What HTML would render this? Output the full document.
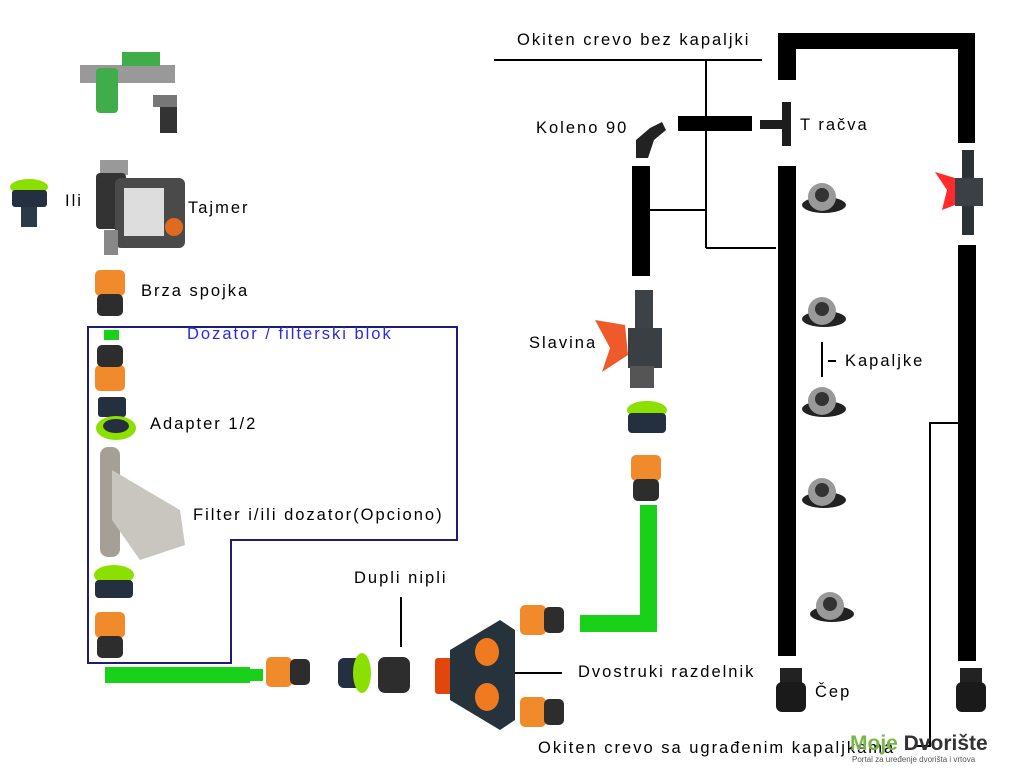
<!DOCTYPE html>
<html><head><meta charset="utf-8"><style>
body{margin:0;width:1024px;height:768px;background:#fff;overflow:hidden;position:relative;font-family:"Liberation Sans",sans-serif}
.t{position:absolute;font-size:16.5px;color:#000;white-space:nowrap;letter-spacing:2px}
</style></head><body>
<svg width="1024" height="768" style="position:absolute;left:0;top:0">
<g fill="#000">
<rect x="778" y="33" width="18" height="47"/><rect x="778" y="33" width="197" height="16"/><rect x="958" y="33" width="17" height="110"/>
<rect x="678" y="116" width="74" height="15"/>
<rect x="632" y="166" width="18" height="110"/>
<rect x="778" y="166" width="18" height="490"/>
<rect x="958" y="245" width="18" height="416"/>
</g>
<g stroke="#000" stroke-width="2" fill="none">
<line x1="494" y1="60" x2="762" y2="60"/><line x1="706" y1="60" x2="706" y2="248"/>
<line x1="648" y1="210" x2="706" y2="210"/><line x1="706" y1="248" x2="776" y2="248"/>
<line x1="822" y1="342" x2="822" y2="377"/><line x1="828" y1="361" x2="836" y2="361"/>
<polyline points="960,423 930,423 930,746 914,746"/>
<line x1="401" y1="597" x2="401" y2="647"/><line x1="510" y1="673" x2="562" y2="673"/>
</g>
<path d="M88 327H457V540H231V663H88Z" fill="none" stroke="#1c1c7a" stroke-width="2"/>
<g fill="#1ad11a">
<rect x="105" y="667" width="145" height="16"/><rect x="248" y="669" width="15" height="12"/>
<rect x="640" y="505" width="17" height="127"/><rect x="580" y="615" width="77" height="17"/>
<rect x="104" y="330" width="15" height="10"/>
</g>
<g><rect x="80" y="65" width="95" height="18" fill="#999"/><rect x="96" y="68" width="22" height="45" rx="4" fill="#3fae4a"/><rect x="122" y="52" width="38" height="14" fill="#3fae4a"/><rect x="153" y="95" width="24" height="12" fill="#777"/><rect x="160" y="107" width="17" height="26" fill="#333"/></g>
<g><ellipse cx="29" cy="187" rx="19" ry="8" fill="#8be000"/><rect x="12" y="190" width="35" height="17" rx="3" fill="#243040"/><rect x="21" y="207" width="16" height="20" fill="#2a3a48"/></g>
<g><rect x="100" y="160" width="28" height="15" fill="#999"/><rect x="96" y="173" width="30" height="56" rx="4" fill="#333"/><rect x="115" y="178" width="70" height="70" rx="6" fill="#4a4a4a"/><rect x="124" y="188" width="40" height="48" fill="#ddd"/><circle cx="174" cy="227" r="9" fill="#e06a20"/><rect x="104" y="230" width="14" height="25" fill="#888"/></g>
<defs>
<g id="qc"><rect x="0" y="0" width="30" height="26" rx="5" fill="#f08a2a"/><rect x="2" y="24" width="26" height="22" rx="5" fill="#2d2d2d"/></g>
<g id="qch"><rect x="0" y="0" width="26" height="30" rx="5" fill="#f08a2a"/><rect x="24" y="2" width="20" height="26" rx="5" fill="#2d2d2d"/></g>
<g id="drip"><ellipse cx="22" cy="22" rx="22" ry="8" fill="#222"/><circle cx="20" cy="14" r="14" fill="#999"/><circle cx="20" cy="12" r="7" fill="#333"/></g>
<g id="cap"><rect x="4" y="0" width="22" height="16" fill="#222"/><rect x="0" y="14" width="30" height="30" rx="6" fill="#1a1a1a"/></g>
</defs>
<use href="#qc" x="95" y="270"/>
<g transform="translate(125,391) rotate(180)"><use href="#qc" x="0" y="0"/></g>
<g><rect x="98" y="397" width="28" height="20" rx="3" fill="#243040"/><ellipse cx="116" cy="428" rx="20" ry="12" fill="#8be000"/><ellipse cx="116" cy="426" rx="13" ry="7" fill="#243040"/></g>
<g><rect x="100" y="447" width="20" height="110" rx="8" fill="#a59f95"/><path d="M112 470 L180 510 L185 545 L140 560 L112 520Z" fill="#c9c6c0"/></g>
<g><ellipse cx="114" cy="575" rx="20" ry="10" fill="#8be000"/><rect x="95" y="580" width="38" height="18" rx="4" fill="#243040"/></g>
<use href="#qc" x="95" y="612"/>
<use href="#qch" x="266" y="657"/>
<g><rect x="338" y="658" width="30" height="30" rx="6" fill="#243040"/><ellipse cx="362" cy="673" rx="9" ry="20" fill="#8be000"/></g>
<rect x="378" y="657" width="32" height="36" rx="7" fill="#2d2d2d"/>
<g><rect x="435" y="658" width="20" height="36" rx="3" fill="#e2460c"/><path d="M450 650 L500 620 L515 630 L515 720 L500 730 L450 700Z" fill="#26333c"/><ellipse cx="487" cy="652" rx="12" ry="14" fill="#f07a20"/><ellipse cx="487" cy="697" rx="12" ry="14" fill="#f07a20"/></g>
<use href="#qch" x="520" y="605"/>
<use href="#qch" x="520" y="697"/>
<path d="M636 158 L636 140 L650 128 L662 122 L666 130 L654 140 L648 158Z" fill="#222"/>
<g fill="#1d1d1d"><rect x="782" y="102" width="9" height="44"/><rect x="760" y="120" width="24" height="9"/></g>
<g><rect x="635" y="290" width="18" height="40" fill="#3d4247"/><rect x="628" y="328" width="34" height="40" fill="#3a3f44"/><path d="M595 320 L625 325 L628 355 L602 372 L610 348Z" fill="#ef5a2a"/><rect x="630" y="366" width="24" height="22" fill="#555"/></g>
<g><ellipse cx="647" cy="410" rx="20" ry="9" fill="#8be000"/><rect x="628" y="413" width="38" height="20" rx="4" fill="#243040"/></g>
<use href="#qc" x="631" y="455"/>
<use href="#drip" x="802" y="183"/><use href="#drip" x="802" y="297"/><use href="#drip" x="802" y="387"/><use href="#drip" x="802" y="478"/><use href="#drip" x="810" y="592"/>
<g><rect x="962" y="150" width="12" height="85" fill="#2b3236"/><rect x="955" y="178" width="28" height="28" fill="#3a4045"/><path d="M935 172 L955 178 L955 205 L942 210 L947 190Z" fill="#ff2a2a"/></g>
<use href="#cap" x="776" y="668"/><use href="#cap" x="956" y="668"/>
</svg>
<div class="t" style="left:517px;top:31px">Okiten crevo bez kapaljki</div>
<div class="t" style="left:536px;top:119px">Koleno 90</div>
<div class="t" style="left:800px;top:116px">T račva</div>
<div class="t" style="left:65px;top:192px">Ili</div>
<div class="t" style="left:188px;top:199px">Tajmer</div>
<div class="t" style="left:141px;top:282px">Brza spojka</div>
<div class="t" style="left:187px;top:325px;color:#2a2ae8">Dozator / filterski blok</div>
<div class="t" style="left:529px;top:334px">Slavina</div>
<div class="t" style="left:845px;top:352px">Kapaljke</div>
<div class="t" style="left:150px;top:415px">Adapter 1/2</div>
<div class="t" style="left:193px;top:506px">Filter i/ili dozator(Opciono)</div>
<div class="t" style="left:354px;top:569px">Dupli nipli</div>
<div class="t" style="left:578px;top:663px">Dvostruki razdelnik</div>
<div class="t" style="left:815px;top:683px">Čep</div>
<div class="t" style="left:538px;top:739px">Okiten crevo sa ugrađenim kapaljkama</div>
<div class="t" style="left:850px;top:732px;font-size:21px;font-weight:bold;color:#7ab648;letter-spacing:0">Moje <span style="color:#333">Dvorište</span></div>
<div class="t" style="left:852px;top:755px;font-size:8px;color:#555;letter-spacing:0">Portal za uređenje dvorišta i vrtova</div>
</body></html>
